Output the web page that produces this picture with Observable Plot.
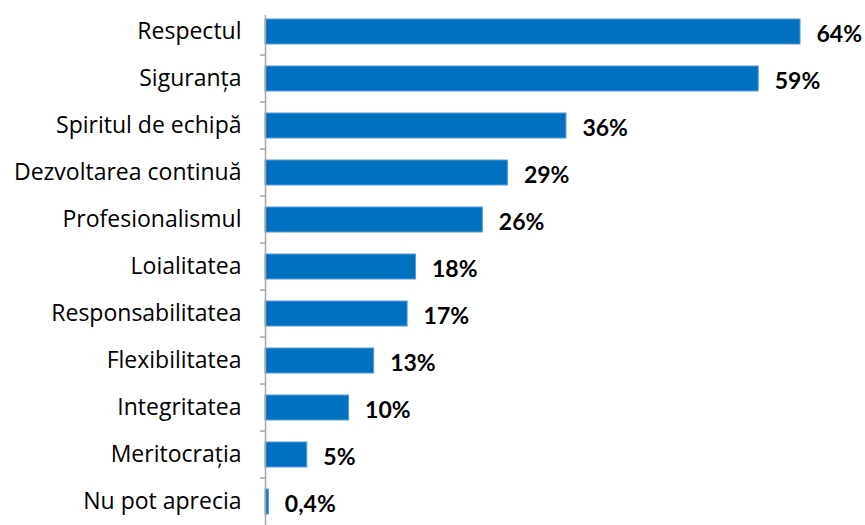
<!DOCTYPE html>
<html>
<head>
<meta charset="utf-8">
<script src="https://cdn.jsdelivr.net/npm/d3@7"></script>
<script src="https://cdn.jsdelivr.net/npm/@observablehq/plot@0.6"></script>
<style>
  html, body { margin: 0; padding: 0; background: #fff; overflow: hidden; }
  svg { display: block; }
</style>
</head>
<body>
<div id="chart"></div>
<script>
const categories = ["Respectul", "Siguranța", "Spiritul de echipă", "Dezvoltarea continuă", "Profesionalismul", "Loialitatea", "Responsabilitatea", "Flexibilitatea", "Integritatea", "Meritocrația", "Nu pot aprecia"];
const values = [64, 59, 36, 29, 26, 18, 17, 13, 10, 5, 0.4];
const valueLabels = ["64%", "59%", "36%", "29%", "26%", "18%", "17%", "13%", "10%", "5%", "0,4%"];

const data = categories.map((c, i) => ({cat: c, v: values[i], lab: valueLabels[i]}));

const yTop = 3, yBottom = 530;
const step = (yBottom - yTop) / categories.length;

const chart = Plot.plot({
  width: 865,
  height: 525,
  marginLeft: 265,
  marginRight: 65,
  marginTop: 15,
  marginBottom: 0,
  style: {fontFamily: "'Open Sans', sans-serif", background: "#fff"},
  x: {domain: [0, 64], axis: null},
  y: {domain: categories, range: [yTop, yBottom], paddingInner: 0.46, paddingOuter: 0.23, axis: null},
  marks: [
    Plot.barX(data, {x: "v", y: "cat", fill: "#0070C0", stroke: "#5b9bd5", strokeWidth: 1}),
    Plot.ruleX([0], {stroke: "#a6a6a6", strokeWidth: 1.5}),
    Plot.axisY({ticks: categories.slice(1), tickSize: 5, text: null, label: null, dy: -step / 2, stroke: "#a6a6a6", strokeWidth: 1.5}),
    Plot.axisY({tickSize: 0, tickPadding: 24, label: null, fontSize: 23, fill: "#000", fontFamily: "'Open Sans', sans-serif"}),
    Plot.text(data, {x: "v", y: "cat", text: "lab", textAnchor: "start", dx: 16, dy: 3, fontSize: 23, fontWeight: "bold", fill: "#000", fontFamily: "Lato, sans-serif"})
  ]
});
document.getElementById("chart").appendChild(chart);
</script>
</body>
</html>
